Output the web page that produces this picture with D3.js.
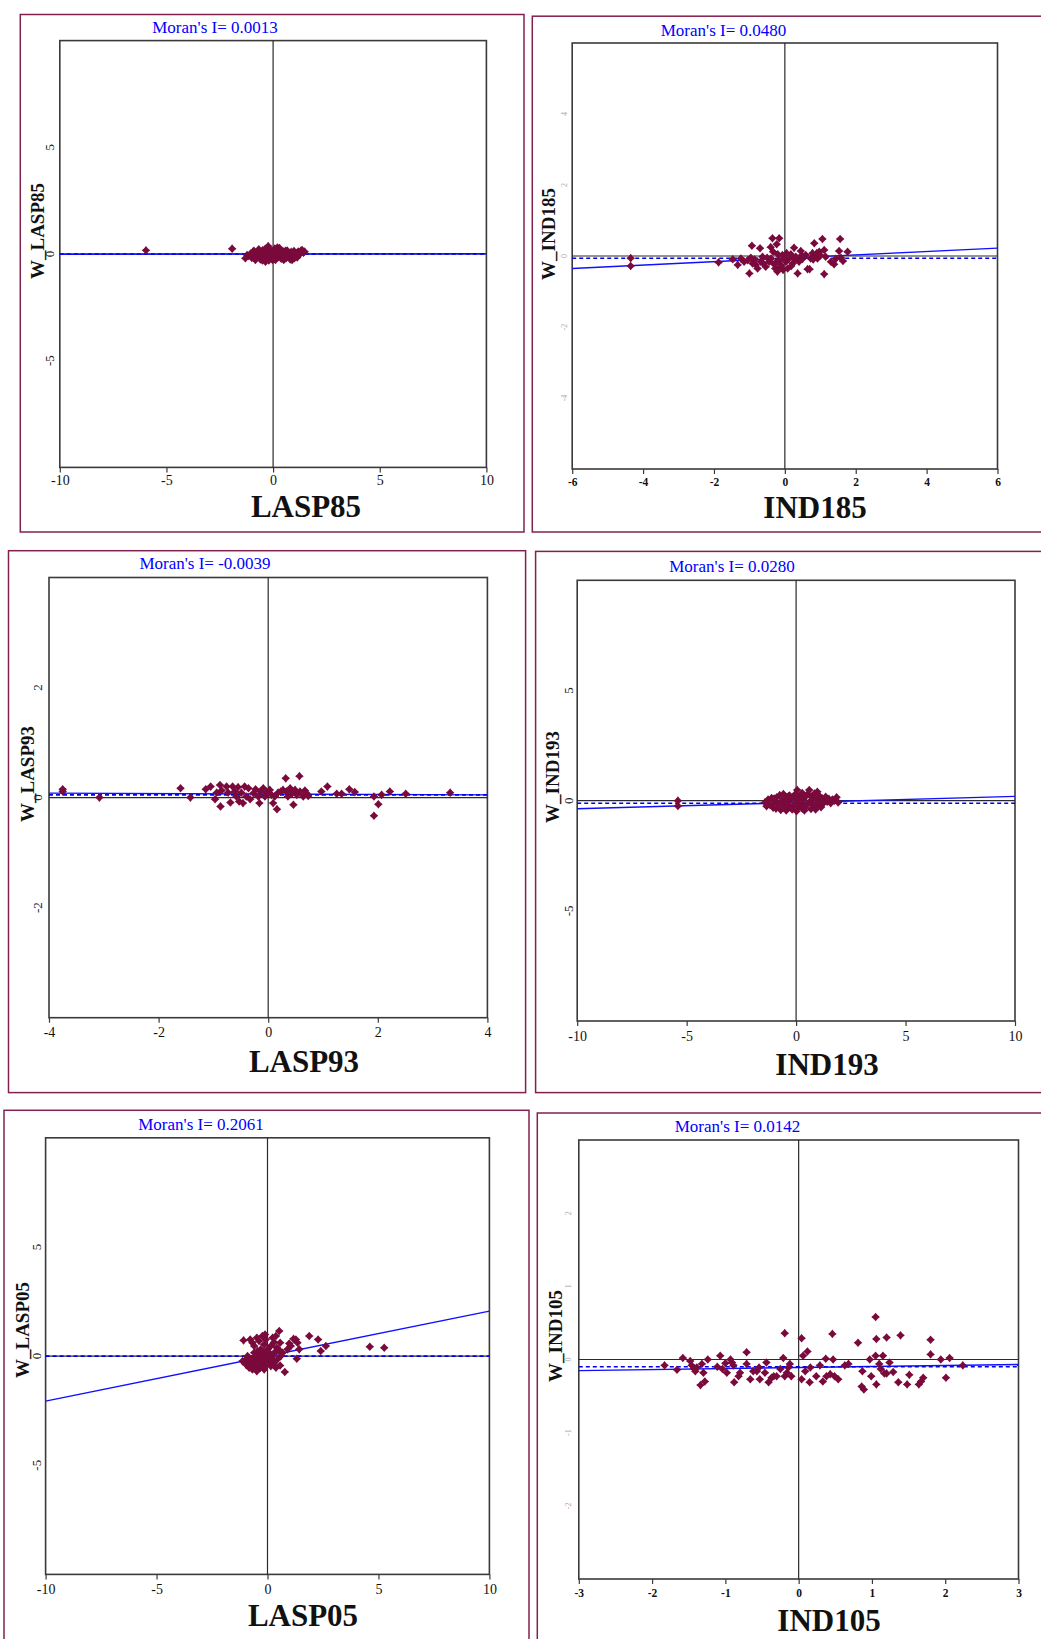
<!DOCTYPE html>
<html><head><meta charset="utf-8">
<script src="https://cdn.jsdelivr.net/npm/d3@7"></script>
<style>html,body{margin:0;padding:0;background:#fff;} svg{display:block;}</style>
</head><body>
<script>
// ---------- data ----------
const panelNames = ["LASP85", "IND185", "LASP93", "IND193", "LASP05", "IND105"];
const moransI = [0.0013, 0.0480, -0.0039, 0.0280, 0.2061, 0.0142];
const moransLabels = ["0.0013", "0.0480", "-0.0039", "0.0280", "0.2061", "0.0142"];
const fitIntercepts = [0, -0.065, 0.065, -0.085, 0, -0.11];
const dashLevels = [0, -0.065, 0.05, -0.12, 0, -0.10];
const xDomains = [[-10, 10], [-6, 6], [-4, 4], [-10, 10], [-10, 10], [-3, 3]];
const yDomains = [[-10, 10], [-6, 6], [-4, 4], [-10, 10], [-10, 10], [-3, 3]];
const xTickValues = [[-10, -5, 0, 5, 10], [-6, -4, -2, 0, 2, 4, 6], [-4, -2, 0, 2, 4], [-10, -5, 0, 5, 10], [-10, -5, 0, 5, 10], [-3, -2, -1, 0, 1, 2, 3]];
const yTickValues = [[-5, 0, 5], [-4, -2, 0, 2, 4], [-2, 0, 2], [-5, 0, 5], [-5, 0, 5], [-2, -1, 0, 1, 2]];

const lasp85Points = [[-5.96,0.17],[-1.92,0.25],
[-1.30,-0.20],[-1.22,-0.05],[-1.14,-0.09],[-1.05,0.02],[-1.0,-0.18],[-0.95,0.10],[-0.90,-0.05],[-0.85,-0.22],[-0.83,-0.28],[-0.78,0.05],[-0.72,-0.12],[-0.67,0.22],[-0.64,-0.02],[-0.60,-0.25],[-0.55,0.12],[-0.52,-0.08],[-0.48,0.18],[-0.45,-0.18],[-0.40,0.03],[-0.36,-0.36],[-0.33,0.25],[-0.30,-0.10],[-0.27,0.10],[-0.23,0.37],[-0.20,-0.22],[-0.17,0.02],[-0.13,0.20],[-0.10,-0.12],[-0.06,0.08],[-0.03,-0.28],[0.0,0.15],[0.04,-0.05],[0.08,0.25],[0.11,-0.28],[0.14,0.05],[0.19,0.22],[0.22,-0.15],[0.26,0.10],[0.30,-0.05],[0.34,0.18],[0.38,-0.22],[0.42,0.02],[0.46,0.12],[0.50,-0.28],[0.54,-0.08],[0.58,0.15],[0.62,0.02],[0.66,0.16],[0.70,-0.15],[0.75,0.05],[0.80,-0.25],[0.85,0.10],[0.89,-0.28],[0.93,-0.02],[0.98,0.14],[1.03,-0.10],[1.08,0.05],[1.13,-0.16],[1.18,0.12],[1.24,-0.02],[1.30,0.15],[1.36,0.19],[1.42,0.06],[1.48,0.11],
[-0.9,0.15],[-0.5,-0.3],[0.2,0.3],[0.6,-0.2],[-0.2,-0.3],[0.3,0.28],[-0.7,0.15],[1.0,-0.2],[0.1,0.0],[-0.4,0.2]];

const ind185Points = [[-4.35,-0.06],[-4.35,-0.28],[-1.87,-0.18],[-1.47,-0.09],[-1.33,-0.25],[-1.24,-0.07],[-1.15,-0.16],[-1.00,-0.49],[-0.96,-0.05],[-0.93,0.29],[-0.91,-0.21],[-0.82,-0.25],[-0.77,-0.35],[-0.70,0.22],[-0.68,-0.16],[-0.63,-0.02],[-0.54,-0.30],[-0.44,-0.16],[-0.39,-0.07],[-0.35,0.50],[-0.33,0.12],[-0.30,-0.23],[-0.27,-0.35],[-0.23,0.33],[-0.21,-0.44],[-0.16,0.50],[-0.16,-0.11],[-0.11,-0.25],[-0.07,0.03],[-0.05,-0.39],[0.03,-0.16],[0.08,-0.35],[0.12,-0.07],[0.17,0.05],[0.22,-0.21],[0.26,0.23],[0.31,-0.02],[0.36,-0.49],[0.40,-0.16],[0.45,0.14],[0.50,-0.08],[0.59,0.03],[0.64,-0.37],[0.70,-0.37],[0.73,-0.07],[0.78,0.08],[0.83,0.36],[0.87,0.03],[0.92,-0.07],[0.97,0.12],[1.06,0.48],[1.11,0.17],[1.11,-0.51],[1.15,-0.02],[1.30,-0.16],[1.39,-0.23],[1.44,-0.08],[1.53,0.14],[1.56,0.48],[1.58,-0.05],[1.64,-0.14],[1.77,0.12],
[-1.05,-0.12],[-0.85,-0.1],[-0.6,-0.22],[-0.5,-0.05],[-0.25,-0.18],[-0.2,0.05],[-0.12,-0.3],[0.0,-0.1],[0.05,0.08],[0.18,-0.28],[0.28,-0.1],[0.48,0.02],[0.85,-0.02],[0.9,0.08],[0.8,-0.1],[1.0,0.02],[-0.4,0.25]];

const lasp93Points = [[-3.75,0.15],[-3.75,0.11],[-3.08,0.0],[-1.60,0.17],[-1.42,0.0],[-1.14,0.15],[-1.05,0.20],[-0.97,-0.03],[-0.94,0.09],[-0.88,0.23],[-0.87,-0.16],[-0.85,0.13],[-0.76,0.20],[-0.73,0.09],[-0.69,-0.09],[-0.65,0.20],[-0.61,0.11],[-0.58,0.02],[-0.55,0.19],[-0.53,-0.07],[-0.49,0.09],[-0.46,-0.10],[-0.43,0.20],[-0.40,0.02],[-0.36,0.17],[-0.33,-0.03],[-0.27,0.08],[-0.23,0.15],[-0.18,0.02],[-0.16,-0.10],[-0.14,0.11],[-0.09,0.17],[-0.06,0.02],[-0.03,0.09],[0.03,0.14],[0.06,0.05],[0.09,-0.10],[0.12,0.02],[0.16,-0.21],[0.18,0.09],[0.23,0.11],[0.27,0.14],[0.32,0.35],[0.33,0.11],[0.36,0.02],[0.40,0.17],[0.44,0.08],[0.46,-0.13],[0.49,0.14],[0.52,0.05],[0.57,0.39],[0.58,0.11],[0.64,0.02],[0.67,0.13],[0.70,0.08],[0.73,0.03],[0.97,0.11],[1.08,0.20],[1.25,0.07],[1.34,0.07],[1.48,0.15],[1.58,0.10],[1.93,0.02],[2.01,-0.12],[1.93,-0.33],[2.07,0.05],[2.22,0.11],[2.51,0.07],[3.32,0.09]];

const ind193Points = [[-5.40,0.0],[-5.40,-0.24],
[-1.42,-0.08],[-1.35,-0.25],[-1.28,0.05],[-1.2,-0.18],[-1.12,0.12],[-1.05,-0.32],[-0.98,-0.05],[-0.92,-0.36],[-0.88,0.15],[-0.80,-0.15],[-0.75,0.25],[-0.70,-0.42],[-0.65,0.0],[-0.58,0.30],[-0.55,-0.25],[-0.50,0.10],[-0.45,-0.45],[-0.40,-0.10],[-0.35,0.20],[-0.30,0.23],[-0.28,-0.30],[-0.22,0.05],[-0.18,-0.40],[-0.12,0.15],[-0.08,-0.20],[-0.03,0.30],[0.02,-0.48],[0.05,0.48],[0.08,0.0],[0.12,-0.28],[0.17,0.22],[0.22,-0.12],[0.28,0.35],[0.29,-0.36],[0.33,0.05],[0.38,-0.45],[0.42,0.18],[0.48,-0.20],[0.53,0.30],[0.60,0.48],[0.62,-0.05],[0.68,-0.38],[0.72,0.15],[0.78,-0.22],[0.84,0.32],[0.89,-0.40],[0.92,0.05],[0.97,0.40],[1.02,-0.15],[1.08,0.20],[1.14,-0.30],[1.20,0.10],[1.27,-0.10],[1.35,0.18],[1.42,-0.05],[1.50,0.08],[1.58,-0.12],[1.66,0.05],[1.75,0.0],[1.85,0.15],[1.92,-0.08],
[-1.0,0.1],[-0.6,-0.3],[0.0,0.2],[0.4,-0.3],[0.9,-0.2],[0.2,0.0],[-0.3,0.0]];

const lasp05Points = [[-1.08,0.72],[-0.78,0.76],[-0.68,0.61],[-0.60,0.46],[-0.48,0.84],[-0.38,0.69],[-0.30,0.31],[-0.23,0.92],[-0.15,0.53],[-0.11,0.99],[-0.08,0.76],[0.15,0.46],[0.23,0.84],[0.30,0.64],[0.38,0.92],[0.42,0.38],[0.53,1.15],[0.57,0.61],[0.68,0.15],[0.78,-0.73],[0.90,0.31],[0.98,0.58],[1.05,0.46],[1.17,0.79],[1.28,0.76],[1.32,-0.12],[1.35,0.61],[1.43,0.31],[1.88,0.92],[2.28,0.76],[2.40,0.23],[2.63,0.46],[4.61,0.43],[5.26,0.38],
[-1.13,-0.23],[-0.98,-0.38],[-0.90,-0.15],[-0.83,-0.53],[-0.75,-0.31],[-0.68,-0.61],[-0.60,-0.08],[-0.53,-0.46],[-0.48,-0.69],[-0.42,-0.23],[-0.38,0.08],[-0.33,-0.53],[-0.27,-0.15],[-0.23,-0.38],[-0.18,0.15],[-0.15,-0.61],[-0.08,0.0],[0.08,-0.23],[0.15,-0.46],[0.23,0.03],[0.30,-0.31],[0.38,-0.53],[0.45,-0.15],[0.57,-0.43],[0.60,0.0],[-0.83,-0.08],[-0.60,0.15],[-0.45,0.23],[-0.30,0.0],[-0.18,-0.27],[0.0,0.31],[-0.03,-0.38],[0.08,0.15],[-0.38,-0.31],[-0.68,-0.23],[-0.98,-0.15],[-0.55,-0.35],[-0.7,-0.45],[-0.25,-0.5],[-0.1,-0.2],[0.0,-0.05],[0.2,-0.1],[-0.5,0.0],[0.35,0.2],[0.5,0.3],[-0.9,0.0]];

const ind105Points = [[-1.83,-0.08],[-1.66,-0.14],[-1.58,0.02],[-1.48,-0.02],[-1.46,-0.08],[-1.43,-0.12],[-1.41,-0.16],[-1.39,-0.11],[-1.34,-0.35],[-1.32,-0.06],[-1.30,-0.18],[-1.28,-0.30],[-1.24,0.0],[-1.11,-0.10],[-1.07,0.05],[-1.04,-0.13],[-1.00,-0.05],[-0.98,-0.18],[-0.93,0.0],[-0.91,-0.04],[-0.89,-0.08],[-0.88,-0.31],[-0.82,-0.23],[-0.80,-0.18],[-0.71,0.10],[-0.71,-0.06],[-0.66,-0.27],[-0.62,-0.16],[-0.57,-0.16],[-0.54,-0.11],[-0.53,-0.27],[-0.46,-0.18],[-0.44,-0.04],[-0.41,-0.31],[-0.37,-0.25],[-0.34,-0.23],[-0.30,-0.23],[-0.25,-0.13],[-0.21,0.02],[-0.19,0.36],[-0.19,-0.23],[-0.16,-0.18],[-0.14,-0.11],[-0.12,-0.06],[-0.10,-0.23],[0.04,0.29],[0.04,-0.27],[0.06,0.05],[0.09,-0.16],[0.12,0.11],[0.16,-0.11],[0.15,-0.31],[0.24,-0.23],[0.29,-0.08],[0.33,-0.30],[0.37,0.01],[0.38,-0.23],[0.43,-0.20],[0.46,0.35],[0.47,0.0],[0.49,-0.23],[0.54,-0.27],[0.63,-0.08],[0.68,-0.06],[0.81,0.23],[0.87,-0.16],[0.86,-0.37],[0.89,-0.41],[0.97,0.0],[0.99,-0.23],[1.05,0.58],[1.05,0.05],[1.06,0.28],[1.06,-0.34],[1.10,-0.06],[1.12,-0.13],[1.15,0.05],[1.17,-0.19],[1.20,0.30],[1.20,-0.19],[1.24,-0.04],[1.29,-0.17],[1.36,-0.31],[1.39,0.33],[1.48,-0.34],[1.51,-0.21],[1.64,-0.34],[1.67,-0.30],[1.70,-0.25],[1.80,0.27],[1.80,0.07],[1.94,0.0],[2.01,-0.25],[2.06,0.02],[2.24,-0.08]];

const panelPoints = [lasp85Points, ind185Points, lasp93Points, ind193Points, lasp05Points, ind105Points];

// ---------- layout (pixel positions, kept apart from the data) ----------
const layout = [
  {frame:[20.3,14.5,524,532],   plot:[59.8,40.6,486.4,467.4],  title:[215,32.5],   xTitle:[306,517],   yTitle:[44,231],   yTickX:54,   xTickY:485,  faint:false},
  {frame:[532.3,16.2,1070,532], plot:[572.2,43,997.5,469],     title:[723.5,36],   xTitle:[815,518],   yTitle:[555,234],  yTickX:567,  xTickY:485.5,faint:true},
  {frame:[8.5,550.7,525.6,1092.6], plot:[49,577.5,487.4,1017.7], title:[205,569],  xTitle:[304,1072],  yTitle:[34,774],   yTickX:41.5, xTickY:1037, faint:false},
  {frame:[535.6,551.4,1070,1092.6], plot:[577.2,580.3,1015,1021], title:[732,572], xTitle:[827,1075],  yTitle:[559,777],  yTickX:573,  xTickY:1041, faint:false},
  {frame:[4,1110.3,529,1720],   plot:[45.6,1137.8,489.4,1574.4], title:[201,1130], xTitle:[303,1626],  yTitle:[29,1330],  yTickX:40.5, xTickY:1594, faint:false},
  {frame:[537.3,1113,1070,1720],plot:[578.8,1140,1018.5,1579], title:[737.5,1132], xTitle:[829,1631],  yTitle:[562,1336], yTickX:571,  xTickY:1597, faint:true}
];

const W = 1041, H = 1639;
const serif = "'Liberation Serif','Times New Roman',serif";
const svg = d3.select("body").append("svg").attr("width", W).attr("height", H);

// four-pointed diamond marker with slightly pinched sides
const starDiamond = {
  draw(ctx, size) {
    const r = Math.sqrt(size) * 0.62, q = r * 0.46;
    ctx.moveTo(0, -r); ctx.lineTo(q, -q); ctx.lineTo(r, 0); ctx.lineTo(q, q);
    ctx.lineTo(0, r); ctx.lineTo(-q, q); ctx.lineTo(-r, 0); ctx.lineTo(-q, -q); ctx.closePath();
  }
};
const markerPath = d3.symbol().type(starDiamond).size(48)();

panelNames.forEach((name, i) => {
  const L = layout[i];
  const g = svg.append("g");
  g.append("rect")
    .attr("x", L.frame[0]).attr("y", L.frame[1])
    .attr("width", L.frame[2] - L.frame[0]).attr("height", L.frame[3] - L.frame[1])
    .attr("fill", "none").attr("stroke", "#82204e").attr("stroke-width", 1.5);

  const x = d3.scaleLinear().domain(xDomains[i]).range([L.plot[0], L.plot[2]]);
  const y = d3.scaleLinear().domain(yDomains[i]).range([L.plot[3], L.plot[1]]);

  g.append("rect")
    .attr("x", L.plot[0]).attr("y", L.plot[1])
    .attr("width", L.plot[2] - L.plot[0]).attr("height", L.plot[3] - L.plot[1])
    .attr("fill", "#fff").attr("stroke", "#3a3a3a").attr("stroke-width", 1.6);

  const xAxis = d3.axisBottom(x).tickValues(xTickValues[i]).tickSize(5).tickFormat(d => String(d));
  const xa = g.append("g").attr("transform", `translate(0,${L.plot[3]})`).call(xAxis);
  xa.select(".domain").remove();
  xa.selectAll(".tick line").attr("stroke", "#3a3a3a").attr("stroke-width", 1.2);
  xa.selectAll(".tick text")
    .attr("y", null).attr("dy", null)
    .attr("transform", `translate(0,${L.xTickY - L.plot[3]})`)
    .attr("font-family", serif)
    .attr("font-size", L.faint ? 11.5 : 14)
    .attr("font-weight", L.faint ? "bold" : "normal")
    .attr("fill", "#111");

  g.selectAll(".ytick").data(yTickValues[i]).join("text")
    .attr("transform", d => `translate(${L.yTickX},${y(d)}) rotate(-90)`)
    .attr("text-anchor", "middle")
    .attr("font-family", serif)
    .attr("font-size", L.faint ? 8 : 13)
    .attr("fill", L.faint ? "#a8a8a8" : "#222")
    .text(d => String(d));

  g.append("line").attr("x1", x(0)).attr("x2", x(0)).attr("y1", L.plot[1]).attr("y2", L.plot[3])
    .attr("stroke", "#2a2a2a").attr("stroke-width", 1.2);
  g.append("line").attr("x1", L.plot[0]).attr("x2", L.plot[2]).attr("y1", y(0)).attr("y2", y(0))
    .attr("stroke", "#2a2a2a").attr("stroke-width", 1.2);

  const line = d3.line().x(d => x(d[0])).y(d => y(d[1]));
  const xd = xDomains[i];
  g.append("path")
    .attr("d", line(xd.map(v => [v, fitIntercepts[i] + moransI[i] * v])))
    .attr("fill", "none").attr("stroke", "#1010ff").attr("stroke-width", 1.4);
  g.append("path")
    .attr("d", line(xd.map(v => [v, dashLevels[i]])))
    .attr("fill", "none").attr("stroke", "#0000ee").attr("stroke-width", 1.6)
    .attr("stroke-dasharray", "4,3");

  g.append("g").selectAll("path").data(panelPoints[i]).join("path")
    .attr("d", markerPath)
    .attr("transform", p => `translate(${x(p[0])},${y(p[1])})`)
    .attr("fill", "#7a0a3c");

  g.append("text")
    .attr("x", L.title[0]).attr("y", L.title[1])
    .attr("text-anchor", "middle")
    .attr("font-family", serif).attr("font-size", 17)
    .attr("fill", "#0000ff")
    .text(`Moran's I= ${moransLabels[i]}`);

  g.append("text")
    .attr("x", L.xTitle[0]).attr("y", L.xTitle[1])
    .attr("text-anchor", "middle")
    .attr("font-family", serif).attr("font-size", 31).attr("font-weight", "bold")
    .attr("fill", "#111")
    .text(name);

  g.append("text")
    .attr("transform", `translate(${L.yTitle[0]},${L.yTitle[1]}) rotate(-90)`)
    .attr("text-anchor", "middle")
    .attr("font-family", serif).attr("font-size", 19).attr("font-weight", "bold")
    .attr("fill", "#111")
    .text("W_" + name);
});
</script>
</body></html>
